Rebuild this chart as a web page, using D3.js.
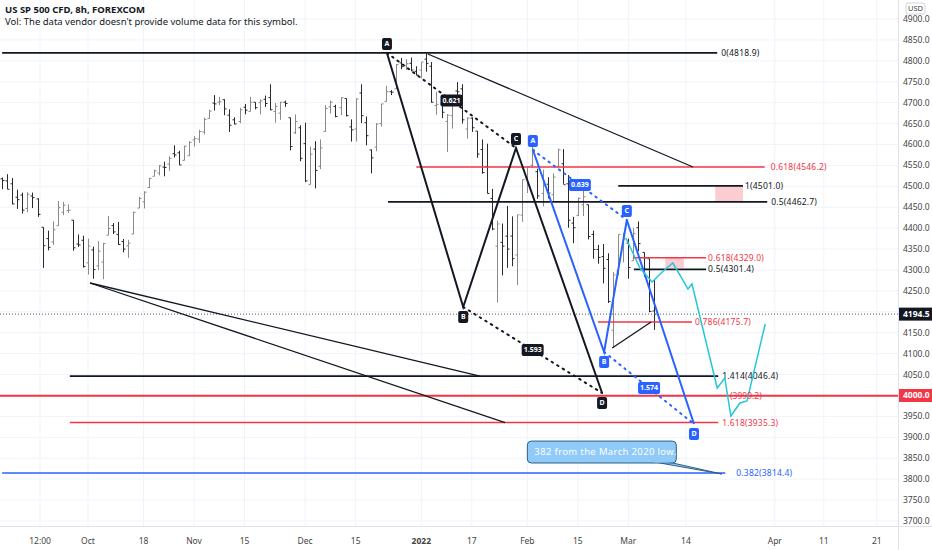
<!DOCTYPE html>
<html>
<head>
<meta charset="utf-8">
<script src="https://cdn.jsdelivr.net/npm/d3@7"></script>
<style>
  html, body { margin: 0; padding: 0; background: #fff; }
  svg { display: block; font-family: "Noto Sans", "Open Sans", sans-serif; }
</style>
</head>
<body>
<svg id="chart" width="932" height="550"></svg>
<script>
// daily bars, Sep 8 2021 .. Mar 8 2022 (bar position = array index)
const barDates = ["09-08","09-09","09-10","09-13","09-14","09-15","09-16","09-17","09-20","09-21","09-22","09-23","09-24","09-27","09-28","09-29","09-30",
  "10-01","10-04","10-05","10-06","10-07","10-08","10-11","10-12","10-13","10-14","10-15","10-18","10-19","10-20","10-21","10-22","10-25","10-26","10-27","10-28","10-29",
  "11-01","11-02","11-03","11-04","11-05","11-08","11-09","11-10","11-11","11-12","11-15","11-16","11-17","11-18","11-19","11-22","11-23","11-24","11-25","11-26","11-29","11-30",
  "12-01","12-02","12-03","12-06","12-07","12-08","12-09","12-10","12-13","12-14","12-15","12-16","12-17","12-20","12-21","12-22","12-23","12-24","12-27","12-28","12-29","12-30","12-31",
  "01-03","01-04","01-05","01-06","01-07","01-10","01-11","01-12","01-13","01-14","01-17","01-18","01-19","01-20","01-21","01-24","01-25","01-26","01-27","01-28","01-31",
  "02-01","02-02","02-03","02-04","02-07","02-08","02-09","02-10","02-11","02-14","02-15","02-16","02-17","02-18","02-21","02-22","02-23","02-24","02-25","02-28",
  "03-01","03-02","03-03","03-04","03-07","03-08"];
const opens = [4518,4513,4506,4474,4479,4447,4477,4470,4402,4375,4367,4406,4438,4442,4419,4362,4371,
  4317,4348,4310,4319,4383,4406,4385,4368,4358,4386,4448,4463,4497,4524,4532,4546,4553,4578,4580,4562,4573,
  4611,4613,4630,4662,4699,4701,4707,4670,4659,4655,4689,4679,4701,4700,4708,4712,4679,4675,4701,4664,4628,4640,
  4602,4504,4589,4548,4631,4690,4691,4688,4710,4642,4637,4723,4652,4587,4594,4650,4703,4726,4733,4795,4788,4794,4775,
  4778,4804,4787,4693,4697,4655,4669,4728,4733,4637,4663,4632,4588,4547,4471,4357,4366,4381,4381,4336,4431,
  4519,4550,4535,4483,4505,4480,4547,4554,4506,4412,4430,4456,4456,4385,4349,4332,4325,4156,4298,4355,
  4364,4322,4401,4342,4327,4202];
const highs = [4521,4529,4520,4492,4485,4486,4485,4471,4402,4394,4416,4465,4463,4457,4419,4385,4382,
  4375,4356,4369,4365,4429,4412,4415,4374,4372,4439,4475,4488,4520,4540,4551,4559,4572,4598,4585,4597,4608,
  4620,4635,4664,4683,4718,4714,4708,4684,4665,4688,4697,4714,4701,4708,4717,4744,4699,4702,4705,4664,4672,4646,
  4652,4595,4608,4612,4694,4705,4695,4713,4710,4660,4710,4744,4667,4588,4651,4697,4740,4730,4792,4807,4804,4808,4787,
  4797,4819,4797,4726,4707,4673,4714,4749,4744,4665,4665,4632,4612,4602,4494,4418,4411,4453,4428,4432,4516,
  4546,4595,4542,4540,4522,4531,4590,4589,4527,4427,4473,4490,4456,4394,4360,4362,4340,4295,4385,4389,
  4375,4401,4416,4342,4327,4276];
const lows = [4493,4493,4457,4446,4435,4438,4448,4427,4305,4347,4360,4406,4431,4436,4346,4355,4306,
  4289,4279,4300,4278,4383,4386,4360,4342,4329,4386,4448,4447,4496,4524,4526,4524,4537,4569,4551,4562,4573,
  4595,4604,4624,4662,4681,4694,4670,4630,4648,4651,4672,4679,4684,4672,4690,4682,4652,4659,4690,4586,4625,4560,
  4510,4504,4495,4541,4631,4674,4665,4670,4667,4607,4607,4651,4598,4531,4584,4643,4703,4718,4733,4780,4778,4775,4765,
  4758,4774,4700,4671,4663,4582,4638,4713,4650,4614,4630,4568,4530,4483,4395,4222,4287,4305,4309,4264,4415,
  4484,4544,4470,4452,4471,4465,4547,4506,4401,4364,4429,4429,4373,4327,4315,4268,4221,4114,4287,4318,
  4279,4322,4345,4284,4199,4157];
const closes = [4514,4493,4458,4468,4443,4481,4473,4433,4358,4354,4396,4449,4455,4443,4353,4360,4308,
  4357,4301,4345,4363,4399,4391,4361,4350,4364,4438,4471,4486,4519,4537,4549,4545,4567,4575,4551,4596,4605,
  4614,4631,4660,4680,4697,4702,4685,4646,4649,4683,4682,4701,4688,4704,4698,4683,4691,4701,4698,4595,4655,4567,
  4513,4577,4538,4592,4686,4701,4667,4712,4669,4635,4709,4669,4621,4568,4649,4697,4726,4725,4791,4786,4793,4778,4766,
  4797,4794,4701,4696,4677,4670,4713,4726,4659,4663,4640,4577,4533,4483,4398,4410,4357,4350,4327,4432,4516,
  4546,4589,4477,4501,4484,4522,4587,4504,4419,4401,4471,4475,4380,4349,4330,4304,4225,4288,4385,4374,
  4306,4387,4363,4329,4201,4194.5];
const lastPrice = 4194.5;

// time axis labels (bar positions, future ones extrapolated)
const timeTickLabels = ["12:00","Oct","18","Nov","15","Dec","15","2022","17","Feb","15","Mar","14","Apr","11","21"];
const timeTickPos = [7.5,17,28,38,48,60,70,83,93,104,114,124,135.4,153,162.7,173.2];
const boldTicks = ["2022"];

// price axis
const priceTicks = d3.range(3700, 4901, 50);

// fib / level lines: price, from, to (bar positions), label, kind
const levelPrices = [4818.9, 4546.2, 4501.0, 4462.7, 4329.0, 4301.4, 4175.7, 4046.4, 3935.3, 3814.4];
const levelFrom   = [0, 82, 122, 76.4, 124.9, 125.1, 118, 13.4, 13.4, 0];
const levelTo     = [141.6, 151, 146.7, 151.5, 139.4, 139.4, 136.6, 141.8, 141.8, 143.2];
const levelLabels = ["0(4818.9)","0.618(4546.2)","1(4501.0)","0.5(4462.7)","0.618(4329.0)","0.5(4301.4)","0.786(4175.7)","1.414(4046.4)","1.618(3935.3)","0.382(3814.4)"];
const levelKinds  = ["black","red","black","black","red","black","red","black","red","blue"];
const levelLabelGap = [4, 6, 2, 4, 2, 2, 3, 4, 4, 11];

const bigLevel = 3999.2;
const bigLevelLabel = "(3999.2)";
const axisMark = 4000.0;

// shaded zones: from, to, price top, price bottom
const zoneFrom = [141.2, 131.3];
const zoneTo = [146.7, 135];
const zoneTop = [4501.0, 4329.0];
const zoneBottom = [4462.7, 4305];

// ABCD patterns
const blackNames = ["A","B","C","D"];
const blackPos = [76.2, 91.3, 101.75, 118.8];
const blackPrice = [4818.9, 4211.5, 4591.6, 4005.9];
const blackRatios = ["0.621","1.593"];
const blueNames = ["A","B","C","D"];
const bluePos = [105.1, 119.2, 123.7, 137];
const bluePrice = [4586.8, 4103.9, 4419.5, 3931.8];
const blueRatios = ["0.639","1.574"];

// free trend lines [pos1, price1, pos2, price2]
const trendLines = [
  [84.3, 4816.3, 136.8, 4546.2],
  [17.4, 4268.9, 94.6, 4046.4],
  [17.4, 4268.9, 99.6, 3935.3],
  [120.8, 4113.5, 128.5, 4175.7]
];

// projected path
const pathPos = [123.5,126.3,128.7,130.7,132.8,135,135.8,136.6,141.6,143.1,144.3,146.1,147.5,151.1];
const pathPrice = [4376.5,4304.7,4271.3,4295.2,4316.7,4271.3,4254.5,4266.5,4017.9,4041.8,3950.9,3982,3986.8,4170.9];

// callout
const calloutText = "382 from the March 2020 low.";
const calloutBox = [104, 133.5, 3891, 3838.6];
const calloutTip = [142.5, 3812.3];

const W = 932, H = 550;
const plotW = 898, plotH = 526;
const RED = "#f23645", BLUE = "#2962ff", BLK = "#131722";
const colorOf = k => k === "red" ? RED : k === "blue" ? BLUE : BLK;

const svg = d3.select("#chart");
const x = d3.scaleLinear().domain([17 - 88 / 5.05, 17 + 810 / 5.05]).range([0, plotW]);
const y = d3.scaleLinear().domain([3688, 4945.4]).range([plotH, 0]);

const plot = svg.append("g");
plot.append("clipPath").attr("id", "clip").append("rect").attr("width", plotW).attr("height", plotH);
const g = plot.append("g").attr("clip-path", "url(#clip)");

// grid
g.selectAll(".vg").data(timeTickPos).join("line")
  .attr("x1", d => x(d)).attr("x2", d => x(d)).attr("y1", 0).attr("y2", plotH)
  .attr("stroke", "#f0f3fa");
g.selectAll(".hg").data(priceTicks).join("line")
  .attr("x1", 0).attr("x2", plotW).attr("y1", d => y(d)).attr("y2", d => y(d))
  .attr("stroke", "#f0f3fa");

// bars
const bars = barDates.map((d, i) => ({ i, o: opens[i], h: highs[i], l: lows[i], c: closes[i] }));
const barG = g.append("g").attr("stroke-width", 1);
bars.forEach(b => {
  const col = b.c >= b.o ? "#8a8a8a" : "#2a2a2a";
  const cx = Math.round(x(b.i)) + 0.5;
  barG.append("line").attr("x1", cx).attr("x2", cx).attr("y1", y(b.h)).attr("y2", y(b.l)).attr("stroke", col);
  barG.append("line").attr("x1", cx - 2).attr("x2", cx).attr("y1", y(b.o)).attr("y2", y(b.o)).attr("stroke", col);
  barG.append("line").attr("x1", cx).attr("x2", cx + 2).attr("y1", y(b.c)).attr("y2", y(b.c)).attr("stroke", col);
});

// last price dotted
g.append("line").attr("x1", 0).attr("x2", plotW).attr("y1", y(lastPrice)).attr("y2", y(lastPrice))
  .attr("stroke", "#555").attr("stroke-dasharray", "1,2");

// zones
zoneFrom.forEach((f, i) => {
  g.append("rect").attr("x", x(f)).attr("width", x(zoneTo[i]) - x(f))
    .attr("y", y(zoneTop[i])).attr("height", y(zoneBottom[i]) - y(zoneTop[i]))
    .attr("fill", "rgba(242,54,69,0.25)");
});

// big 4000 line
g.append("line").attr("x1", 0).attr("x2", plotW).attr("y1", y(bigLevel)).attr("y2", y(bigLevel))
  .attr("stroke", RED).attr("stroke-width", 2);

// levels
levelPrices.forEach((p, i) => {
  const col = colorOf(levelKinds[i]);
  g.append("line").attr("x1", x(levelFrom[i])).attr("x2", x(levelTo[i]))
    .attr("y1", y(p)).attr("y2", y(p))
    .attr("stroke", col).attr("stroke-width", levelKinds[i] === "black" ? 1.8 : 1.5);
  g.append("text").attr("x", x(levelTo[i]) + levelLabelGap[i]).attr("y", y(p)).attr("dy", "0.35em")
    .attr("font-size", 8.5).attr("fill", col).attr("letter-spacing", 0.2).text(levelLabels[i]);
});

// trend lines
g.selectAll(".tl").data(trendLines).join("line")
  .attr("x1", d => x(d[0])).attr("y1", d => y(d[1])).attr("x2", d => x(d[2])).attr("y2", d => y(d[3]))
  .attr("stroke", BLK).attr("stroke-width", 1.3);

// patterns
function drawPattern(pos, price, names, ratios, col) {
  const pts = pos.map((p, i) => [x(p), y(price[i])]);
  // dotted A-C and B-D
  [[0, 2], [1, 3]].forEach(([a, b], k) => {
    g.append("line").attr("x1", pts[a][0]).attr("y1", pts[a][1]).attr("x2", pts[b][0]).attr("y2", pts[b][1])
      .attr("stroke", col).attr("stroke-width", 2).attr("stroke-dasharray", "1.5,5").attr("stroke-linecap", "round");
    const mx = (pts[a][0] + pts[b][0]) / 2, my = (pts[a][1] + pts[b][1]) / 2;
    const w = 22;
    g.append("rect").attr("x", mx - w / 2).attr("y", my - 6).attr("width", w).attr("height", 12).attr("rx", 2).attr("fill", col);
    g.append("text").attr("x", mx).attr("y", my).attr("dy", "0.35em").attr("text-anchor", "middle")
      .attr("font-size", 7).attr("font-weight", "bold").attr("fill", "#fff").text(ratios[k]);
  });
  g.append("path").attr("d", d3.line()(pts)).attr("fill", "none").attr("stroke", col).attr("stroke-width", 2);
  names.forEach((n, i) => {
    const up = i % 2 === 0;
    const cy = pts[i][1] + (up ? -9 : 10);
    g.append("rect").attr("x", pts[i][0] - 5).attr("y", cy - 6).attr("width", 10).attr("height", 12).attr("rx", 2).attr("fill", col);
    g.append("text").attr("x", pts[i][0]).attr("y", cy).attr("dy", "0.35em").attr("text-anchor", "middle")
      .attr("font-size", 7).attr("font-weight", "bold").attr("fill", "#fff").text(n);
  });
}
drawPattern(blackPos, blackPrice, blackNames, blackRatios, BLK);
drawPattern(bluePos, bluePrice, blueNames, blueRatios, BLUE);

// projection
g.append("path").attr("d", d3.line()(pathPos.map((p, i) => [x(p), y(pathPrice[i])])))
  .attr("fill", "none").attr("stroke", "#26c6da").attr("stroke-width", 1.5);

// big level label drawn over
g.append("text").attr("x", 730).attr("y", y(bigLevel)).attr("dy", "0.35em")
  .attr("font-size", 8.5).attr("fill", RED).text(bigLevelLabel);

// callout
const bx0 = x(calloutBox[0]), bx1 = x(calloutBox[1]), by0 = y(calloutBox[2]), by1 = y(calloutBox[3]);
const tip = [x(calloutTip[0]), y(calloutTip[1])];
g.append("path").attr("d", `M${bx1 - 8},${by1 - 1} L${tip[0]},${tip[1]} L${bx1 - 22},${by1 - 1} Z`)
  .attr("fill", "#90caf9").attr("stroke", "#2d5f86").attr("stroke-width", 1);
g.append("rect").attr("x", bx0).attr("y", by0).attr("width", bx1 - bx0).attr("height", by1 - by0).attr("rx", 4)
  .attr("fill", "#90caf9").attr("stroke", "#2d5f86").attr("stroke-width", 1);
g.append("path").attr("d", `M${bx1 - 8},${by1 - 1.5} L${bx1 - 22},${by1 - 1.5}`).attr("stroke", "#90caf9").attr("stroke-width", 2);
g.append("text").attr("x", bx0 + 7).attr("y", (by0 + by1) / 2).attr("dy", "0.35em")
  .attr("font-size", 9.5).attr("fill", "#fff").attr("letter-spacing", 0.35).text(calloutText);

// axes frame
svg.append("line").attr("x1", plotW + 0.5).attr("x2", plotW + 0.5).attr("y1", 0).attr("y2", H).attr("stroke", "#e0e3eb");
svg.append("line").attr("x1", 0).attr("x2", W).attr("y1", plotH + 0.5).attr("y2", plotH + 0.5).attr("stroke", "#e0e3eb");

// price axis labels
const marks = [lastPrice, axisMark];
svg.selectAll(".pt").data(priceTicks.filter(p => marks.every(m => Math.abs(y(p) - y(m)) > 11))).join("text")
  .attr("x", 903).attr("y", d => y(d)).attr("dy", "0.35em")
  .attr("font-size", 8.5).attr("fill", "#444").text(d => d3.format(".1f")(d));
[[lastPrice, BLK], [axisMark, RED]].forEach(([p, col]) => {
  svg.append("rect").attr("x", plotW + 1).attr("y", y(p) - 6.5).attr("width", 34).attr("height", 13).attr("fill", col);
  svg.append("text").attr("x", 903).attr("y", y(p)).attr("dy", "0.35em")
    .attr("font-size", 8.5).attr("font-weight", "bold").attr("fill", "#fff").text(d3.format(".1f")(p));
});
svg.append("rect").attr("x", 906).attr("y", 3).attr("width", 19).attr("height", 11).attr("rx", 2)
  .attr("fill", "#fff").attr("stroke", "#d1d4dc");
svg.append("text").attr("x", 915.5).attr("y", 8.5).attr("dy", "0.35em").attr("text-anchor", "middle")
  .attr("font-size", 7.5).attr("fill", "#444").text("USD");

// time axis labels
svg.selectAll(".tt").data(timeTickPos).join("text")
  .attr("x", d => x(d)).attr("y", 541).attr("dy", "0.35em").attr("text-anchor", "middle")
  .attr("font-size", 8.5).attr("fill", "#444")
  .attr("font-weight", (d, i) => boldTicks.includes(timeTickLabels[i]) ? "bold" : "normal")
  .text((d, i) => timeTickLabels[i]);

// header
svg.append("text").attr("x", 5).attr("y", 10).attr("dy", "0.35em").attr("font-size", 9.5)
  .attr("font-weight", "bold").attr("fill", BLK).text("US SP 500 CFD, 8h, FOREXCOM");
svg.append("text").attr("x", 5).attr("y", 22).attr("dy", "0.35em").attr("font-size", 9.5)
  .attr("fill", BLK).text("Vol: The data vendor doesn't provide volume data for this symbol.");
</script>
</body>
</html>
